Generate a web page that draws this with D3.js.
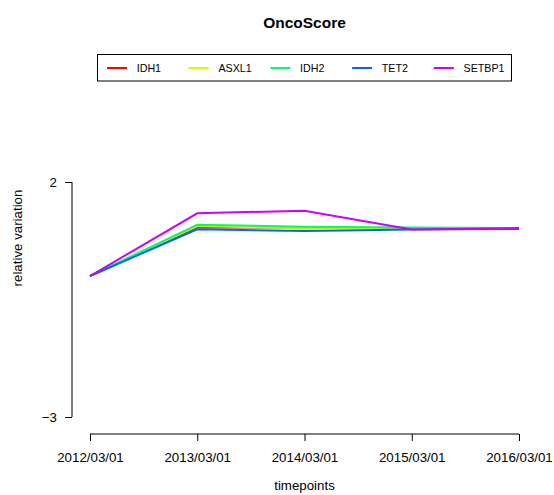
<!DOCTYPE html>
<html><head><meta charset="utf-8">
<script src="https://cdn.jsdelivr.net/npm/d3@7"></script>
<style>body{margin:0;background:#fff}svg{display:block}text{font-family:"Liberation Sans",Arial,Helvetica,sans-serif}</style>
</head><body>
<script>
const timepoints = ["2012/03/01","2013/03/01","2014/03/01","2015/03/01","2016/03/01"];
const seriesNames = ["IDH1","ASXL1","IDH2","TET2","SETBP1"];
const seriesColors = ["#FF0000","#CCFF00","#00FF66","#0066FF","#CC00FF"];
const IDH1   = [0, 1.036, 1.025, 1.02, 1.01];
const ASXL1  = [0, 1.064, 1.015, 1.02, 1.01];
const IDH2   = [0, 1.09, 1.05, 1.03, 1.02];
const TET2   = [0, 0.994, 0.957, 0.99, 1.00];
const SETBP1 = [0, 1.334, 1.39, 0.99, 1.02];
const yTicks = [2, -3];
const seriesValues = [IDH1, ASXL1, IDH2, TET2, SETBP1];

const W = 554, H = 495;
const svg = d3.select("body").append("svg").attr("width", W).attr("height", H);

const x = d3.scalePoint().domain(timepoints).range([90, 519]);
const y = d3.scaleLinear().domain([-3, 2]).range([417, 182]);

// title
svg.append("text").attr("x", 304.5).attr("y", 28).attr("text-anchor", "middle")
  .style("font-weight", "bold").style("font-size", "15.5px").text("OncoScore");

// lines
const line = d3.line().x((d, i) => x(timepoints[i])).y(d => y(d));
seriesValues.forEach((vals, k) => {
  svg.append("path").datum(vals).attr("d", line).attr("fill", "none")
    .attr("stroke", seriesColors[k]).attr("stroke-width", 2);
});

// x axis
const xAxis = svg.append("g").attr("transform", "translate(0,434)")
  .call(d3.axisBottom(x).tickSize(7).tickPadding(12));
xAxis.select(".domain").attr("d", `M${x(timepoints[0])},0H${x(timepoints[4])}`).attr("stroke", "#000");
xAxis.selectAll("text").style("font-size", "13.3px").attr("fill", "#000")
  .style("font-family", '"Liberation Sans",Arial,sans-serif');
xAxis.selectAll("line").attr("stroke", "#000");

// y axis
const yAxis = svg.append("g").attr("transform", "translate(72,0)")
  .call(d3.axisLeft(y).tickValues(yTicks).tickSize(7).tickPadding(8).tickFormat(d => d < 0 ? "\u2212" + Math.abs(d) : d));
yAxis.select(".domain").attr("d", `M0,${y(2)}V${y(-3)}`).attr("stroke", "#000");
yAxis.selectAll("text").style("font-size", "13.3px").attr("fill", "#000")
  .style("font-family", '"Liberation Sans",Arial,sans-serif');
yAxis.selectAll("line").attr("stroke", "#000");

// axis labels
svg.append("text").attr("x", 304.5).attr("y", 490).attr("text-anchor", "middle")
  .style("font-size", "13.3px").text("timepoints");
svg.append("text").attr("transform", "translate(22,238) rotate(-90)").attr("text-anchor", "middle")
  .style("font-size", "13.3px").text("relative variation");

// legend
const lg = svg.append("g");
lg.append("rect").attr("x", 97.5).attr("y", 54.5).attr("width", 414).attr("height", 26.5)
  .attr("fill", "#fff").attr("stroke", "#000").attr("stroke-width", 1);
seriesNames.forEach((n, i) => {
  const x0 = 107 + i * 81.7;
  lg.append("line").attr("x1", x0).attr("x2", x0 + 20).attr("y1", 68).attr("y2", 68)
    .attr("stroke", seriesColors[i]).attr("stroke-width", 2);
  lg.append("text").attr("x", x0 + 29.7).attr("y", 71.8).style("font-size", "10.7px").text(n);
});
</script>
</body></html>
